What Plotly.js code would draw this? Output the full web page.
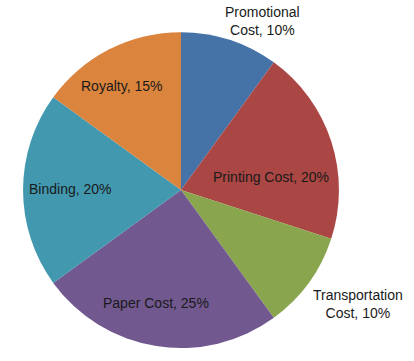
<!DOCTYPE html>
<html><head><meta charset="utf-8">
<script src="https://cdn.plot.ly/plotly-3.0.1.min.js"></script>
<style>html,body{margin:0;padding:0;background:#fff}</style>
</head><body>
<div id="chart" style="width:414px;height:361px"></div>
<script>
const categories = ["Promotional Cost", "Printing Cost", "Transportation Cost", "Paper Cost", "Binding", "Royalty"];
const shares = [10, 20, 10, 25, 20, 15];
const labelTexts = ["Promotional<br>Cost, 10%", "Printing Cost, 20%", "Transportation<br>Cost, 10%", "Paper Cost, 25%", "Binding, 20%", "Royalty, 15%"];
const colors = ["#4572A7", "#AA4643", "#89A54E", "#71588F", "#4198AF", "#DB843D"];

// label placement (layout only, pixel positions in the 414x361 canvas)
const W = 414, H = 361;
const labelPx = [[262, 21], [271, 177], [358, 304], [156, 303], [70, 189], [122, 86]];

const font = {family: "Liberation Sans, Arial, sans-serif", size: 14, color: "#1a1a1a"};

const annotations = labelTexts.map((t, i) => ({
  text: t,
  xref: "paper", yref: "paper",
  x: labelPx[i][0] / W, y: 1 - labelPx[i][1] / H,
  xanchor: "center", yanchor: "middle",
  showarrow: false, align: "center",
  font: font
}));

Plotly.newPlot("chart", [{
  type: "pie",
  labels: categories,
  values: shares,
  textinfo: "none",
  sort: false,
  direction: "clockwise",
  rotation: 0,
  marker: {colors: colors, line: {color: "#ffffff", width: 0}},
  domain: {x: [0.0556, 0.8188], y: [0.036, 0.911]},
  hoverinfo: "none",
  automargin: false
}], {
  width: W, height: H,
  margin: {l: 0, r: 0, t: 0, b: 0},
  showlegend: false,
  paper_bgcolor: "#fff",
  annotations: annotations
}, {staticPlot: true});
</script>
</body></html>
